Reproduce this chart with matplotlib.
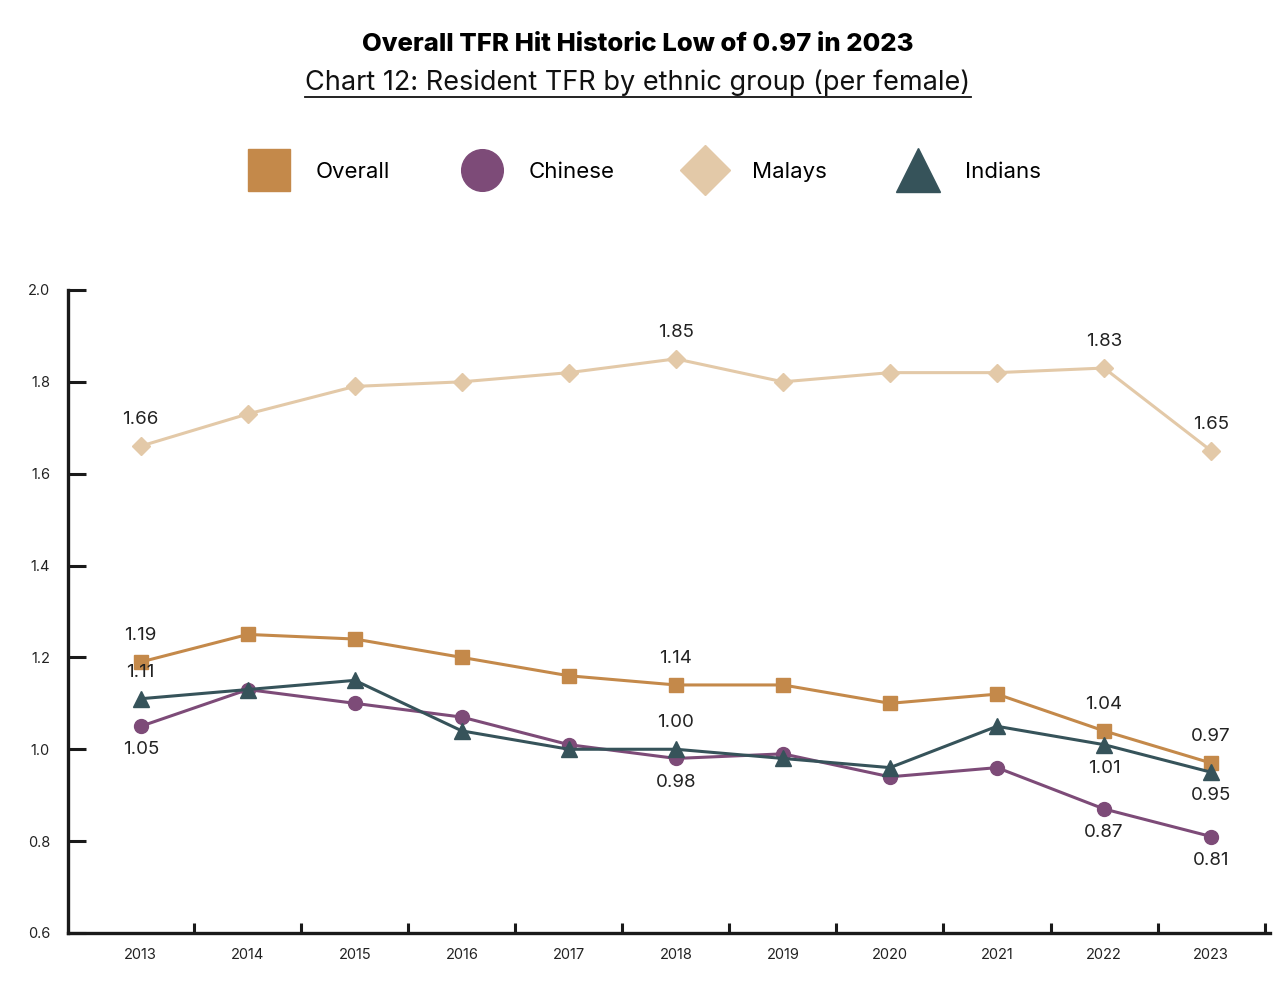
import matplotlib
matplotlib.use("Agg")
import matplotlib.pyplot as plt
from matplotlib.lines import Line2D

plt.rcParams['font.family'] = ['Inter', 'DejaVu Sans']

years = ['2013', '2014', '2015', '2016', '2017', '2018', '2019', '2020', '2021', '2022', '2023']
overall = [1.19, 1.25, 1.24, 1.20, 1.16, 1.14, 1.14, 1.10, 1.12, 1.04, 0.97]
chinese = [1.05, 1.13, 1.10, 1.07, 1.01, 0.98, 0.99, 0.94, 0.96, 0.87, 0.81]
malays = [1.66, 1.73, 1.79, 1.80, 1.82, 1.85, 1.80, 1.82, 1.82, 1.83, 1.65]
indians = [1.11, 1.13, 1.15, 1.04, 1.00, 1.00, 0.98, 0.96, 1.05, 1.01, 0.95]

labelled = ['2013', '2018', '2022', '2023']
# label side per series and year: +1 above, -1 below
overall_side = [1, 1, 1, 1]
chinese_side = [-1, -1, -1, -1]
malays_side = [1, 1, 1, 1]
indians_side = [1, 1, -1, -1]

series = [
    ('Overall', overall, '#c4894a', 's', 10, overall_side),
    ('Chinese', chinese, '#7d4b78', 'o', 10, chinese_side),
    ('Malays', malays, '#e3c9a8', 'D', 9, malays_side),
    ('Indians', indians, '#36535a', '^', 11, indians_side),
]
legend_sizes = {'s': 30, 'o': 30, 'D': 25, '^': 31}

fig = plt.figure(figsize=(12.82, 9.92), dpi=100)
ax = fig.add_axes([0.053, 0.0595, 0.9376, 0.6482])

x = list(range(len(years)))
draw_order = [2, 0, 1, 3]
for i in draw_order:
    name, vals, color, marker, ms, sides = series[i]
    ax.plot(x, vals, color=color, lw=2.2, marker=marker, ms=ms, zorder=3 + i)
    for yr, side in zip(labelled, sides):
        k = years.index(yr)
        ax.annotate(f'{vals[k]:.2f}', (k, vals[k]),
                    xytext=(0, 19 if side > 0 else -17), textcoords='offset points',
                    ha='center', va='center', fontsize=13.5, color='#222222')

ax.set_xlim(-0.68, 10.55)
ax.set_ylim(0.6, 2.0)
ax.set_yticks([0.6, 0.8, 1.0, 1.2, 1.4, 1.6, 1.8, 2.0])
ax.set_yticklabels(['0.6', '0.8', '1.0', '1.2', '1.4', '1.6', '1.8', '2.0'])
ax.set_xticks(x)
ax.set_xticklabels(years)
ax.set_xticks([k + 0.5 for k in x], minor=True)
ax.tick_params(axis='x', which='major', length=0, pad=11, labelsize=10.5, labelcolor='#222222')
ax.tick_params(axis='x', which='minor', direction='in', length=7, width=2.2, color='#1a1a1a')
ax.tick_params(axis='y', direction='in', length=13, width=2.2, color='#1a1a1a',
               pad=13, labelsize=10.5, labelcolor='#222222')
for s in ['top', 'right']:
    ax.spines[s].set_visible(False)
for s in ['left', 'bottom']:
    ax.spines[s].set_linewidth(2.4)
    ax.spines[s].set_color('#1a1a1a')

handles = [Line2D([], [], ls='none', marker=m, color=c, ms=legend_sizes[m])
           for (_, _, c, m, _, _) in series]
fig.legend(handles, [s[0] for s in series], loc='center', bbox_to_anchor=(0.504, 0.827),
           ncol=4, frameon=False, fontsize=16, handlelength=1.6, handletextpad=1.3,
           columnspacing=3.3)

fig.text(0.4977, 0.955, 'Overall TFR Hit Historic Low of 0.97 in 2023', ha='center', va='center',
         fontsize=18.5, fontweight='heavy', color='black')
sub = fig.text(0.4977, 0.917, 'Chart 12: Resident TFR by ethnic group (per female)', ha='center',
               va='center', fontsize=19.5, color='#111111')
fig.canvas.draw()
bb = sub.get_window_extent().transformed(fig.transFigure.inverted())
fig.add_artist(Line2D([bb.x0, bb.x1], [bb.y0 - 0.001, bb.y0 - 0.001], color='#111111', lw=1.3))

fig.savefig('out.png', dpi=100)
